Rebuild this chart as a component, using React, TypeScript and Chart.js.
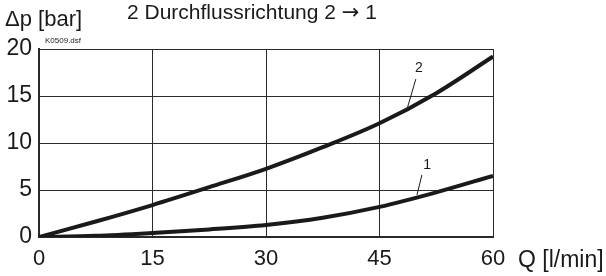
import React, { useEffect, useRef } from "react";
import { Chart, registerables } from "chart.js";

Chart.register(...registerables);

const flowQ = [0, 7.5, 15, 22.5, 30, 37.5, 45, 52.5, 60];
const curve2 = [0, 1.65, 3.4, 5.3, 7.25, 9.55, 12.1, 15.3, 19.2];
const curve1 = [0, 0.12, 0.42, 0.8, 1.28, 2.05, 3.2, 4.75, 6.5];
const xTicks = [0, 15, 30, 45, 60];
const yTicks = [0, 5, 10, 15, 20];
const yTitle = "\u0394p [bar]";
const chartTitleA = "2 Durchflussrichtung 2 ";
const chartArrow = "\u2192";
const chartTitleB = " 1";
const xTitle = "Q [l/min]";
const fileTag = "K0509.dsf";

const FONT = "'Liberation Sans', Arial, sans-serif";

export default function App() {
  const ref = useRef<HTMLCanvasElement | null>(null);
  useEffect(() => {
    if (!ref.current) return;
    const textPlugin = {
      id: "texts",
      afterDraw(chart: any) {
        const ctx = chart.ctx;
        const xs = chart.scales.x;
        const ys = chart.scales.y;
        ctx.save();
        ctx.fillStyle = "#1a1a1a";
        ctx.textBaseline = "alphabetic";
        ctx.textAlign = "left";
        ctx.font = `22px ${FONT}`;
        ctx.fillText(yTitle, 5, 26);
        // title
        ctx.font = `21px ${FONT}`;
        let x = 127;
        ctx.fillText(chartTitleA, x, 19);
        x += ctx.measureText(chartTitleA).width;
        ctx.font = `21px 'DejaVu Sans', sans-serif`;
        ctx.fillText(chartArrow, x, 19);
        x += ctx.measureText(chartArrow).width;
        ctx.font = `21px ${FONT}`;
        ctx.fillText(chartTitleB, x, 19);
        ctx.font = `8px ${FONT}`;
        ctx.fillText(fileTag, 45, 43);
        ctx.font = `23px ${FONT}`;
        ctx.fillText(xTitle, 518, 267);
        // curve labels with leader lines
        ctx.font = `14px ${FONT}`;
        ctx.textAlign = "center";
        ctx.fillText("2", xs.getPixelForValue(50.2), ys.getPixelForValue(17.55));
        ctx.fillText("1", xs.getPixelForValue(51.3), ys.getPixelForValue(7.23));
        ctx.strokeStyle = "#1a1a1a";
        ctx.lineWidth = 1;
        ctx.beginPath();
        ctx.moveTo(xs.getPixelForValue(49.8), ys.getPixelForValue(16.8));
        ctx.lineTo(xs.getPixelForValue(48.6), ys.getPixelForValue(13.5));
        ctx.moveTo(xs.getPixelForValue(50.6), ys.getPixelForValue(6.6));
        ctx.lineTo(xs.getPixelForValue(49.95), ys.getPixelForValue(4.47));
        ctx.stroke();
        ctx.restore();
      },
    };
    const chart = new Chart(ref.current, {
      type: "line",
      data: {
        datasets: [
          {
            data: flowQ.map((q, i) => ({ x: q, y: curve2[i] })),
            borderColor: "#1a1a1a",
            borderWidth: 4,
            pointRadius: 0,
            cubicInterpolationMode: "monotone",
          },
          {
            data: flowQ.map((q, i) => ({ x: q, y: curve1[i] })),
            borderColor: "#1a1a1a",
            borderWidth: 4,
            pointRadius: 0,
            cubicInterpolationMode: "monotone",
          },
        ],
      },
      options: {
        animation: false,
        responsive: false,
        maintainAspectRatio: false,
        layout: { padding: { left: 0, top: 49, right: 113, bottom: 0 } },
        plugins: { legend: { display: false }, tooltip: { enabled: false }, title: { display: false } },
        scales: {
          x: {
            type: "linear",
            min: 0,
            max: 60,
            afterBuildTicks: (s: any) => {
              s.ticks = xTicks.map((v) => ({ value: v }));
            },
            afterFit: (s: any) => {
              s.height = 39;
            },
            grid: { color: "#2a2a2a", lineWidth: 1, drawTicks: false },
            border: { color: "#2a2a2a", width: 2 },
            ticks: {
              color: "#1a1a1a",
              font: { family: FONT, size: 22 },
              padding: 9,
              maxRotation: 0,
            },
          },
          y: {
            type: "linear",
            min: 0,
            max: 20,
            afterBuildTicks: (s: any) => {
              s.ticks = yTicks.map((v) => ({ value: v }));
            },
            afterFit: (s: any) => {
              s.width = 39;
            },
            grid: { color: "#2a2a2a", lineWidth: 1, drawTicks: false },
            border: { color: "#2a2a2a", width: 2 },
            ticks: {
              color: "#1a1a1a",
              font: { family: FONT, size: 23 },
              padding: 7,
            },
          },
        },
      },
      plugins: [textPlugin],
    } as any);
    return () => chart.destroy();
  }, []);
  return (
    <div style={{ position: "fixed", left: 0, top: 0, width: 606, height: 276, background: "#fff" }}>
      <canvas ref={ref} width={606} height={276} style={{ width: 606, height: 276, display: "block" }} />
    </div>
  );
}
